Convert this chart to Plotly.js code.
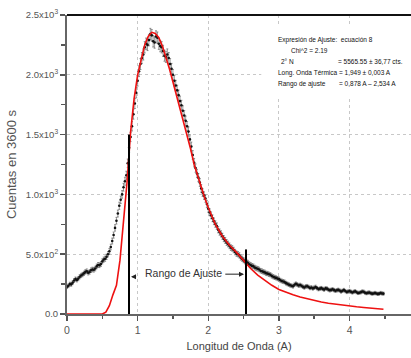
<!DOCTYPE html>
<html>
<head>
<meta charset="utf-8">
<script src="https://cdn.plot.ly/plotly-3.0.1.min.js"></script>
<style>html,body{margin:0;padding:0;background:#fff;}#chart{width:411px;height:358px;}</style>
</head>
<body>
<div id="chart"></div>
<script>
// Measured spectrum (wavelength in A, counts in 3600 s)
const dataX = [
0.00,0.02,0.04,0.06,0.08,0.10,0.12,0.14,0.16,0.18,
0.20,0.22,0.24,0.26,0.28,0.30,0.32,0.34,0.36,0.38,
0.40,0.42,0.44,0.46,0.48,0.50,0.52,0.54,0.56,0.58,
0.60,0.62,0.64,0.66,0.68,0.70,0.72,0.74,0.76,0.78,
0.80,0.82,0.84,0.86,0.88,0.90,0.92,0.94,0.96,0.98,
1.00,1.02,1.04,1.06,1.08,1.10,1.12,1.14,1.16,1.18,
1.20,1.22,1.24,1.26,1.28,1.30,1.32,1.34,1.36,1.38,
1.40,1.42,1.44,1.46,1.48,1.50,1.52,1.54,1.56,1.58,
1.60,1.62,1.64,1.66,1.68,1.70,1.72,1.74,1.76,1.78,
1.80,1.82,1.84,1.86,1.88,1.90,1.92,1.94,1.96,1.98,
2.00,2.02,2.04,2.06,2.08,2.10,2.12,2.14,2.16,2.18,
2.20,2.22,2.24,2.26,2.28,2.30,2.32,2.34,2.36,2.38,
2.40,2.42,2.44,2.46,2.48,2.50,2.52,2.54,2.56,2.58,
2.60,2.62,2.64,2.66,2.68,2.70,2.72,2.74,2.76,2.78,
2.80,2.82,2.84,2.86,2.88,2.90,2.92,2.94,2.96,2.98,
3.00,3.02,3.04,3.06,3.08,3.10,3.12,3.14,3.16,3.18,
3.20,3.22,3.24,3.26,3.28,3.30,3.32,3.34,3.36,3.38,
3.40,3.42,3.44,3.46,3.48,3.50,3.52,3.54,3.56,3.58,
3.60,3.62,3.64,3.66,3.68,3.70,3.72,3.74,3.76,3.78,
3.80,3.82,3.84,3.86,3.88,3.90,3.92,3.94,3.96,3.98,
4.00,4.02,4.04,4.06,4.08,4.10,4.12,4.14,4.16,4.18,
4.20,4.22,4.24,4.26,4.28,4.30,4.32,4.34,4.36,4.38,
4.40,4.42,4.44,4.46,4.48];
const dataY = [
228,236,250,248,262,280,292,285,296,312,
322,330,340,352,358,345,352,366,372,370,
380,398,410,408,418,440,455,462,478,500,
525,560,610,660,720,780,840,905,955,1000,
1060,1110,1160,1260,1390,1480,1570,1670,1760,1850,
1950,2030,2090,2140,2170,2230,2260,2250,2290,2340,
2330,2280,2270,2320,2310,2260,2240,2230,2200,2160,
2150,2170,2140,2090,2050,2000,1950,1910,1870,1830,
1780,1745,1700,1660,1615,1570,1525,1460,1400,1330,
1265,1220,1175,1140,1100,1050,1015,990,965,920,
880,850,825,800,775,752,735,705,685,670,
650,630,615,598,585,570,555,548,535,518,
505,500,490,472,462,450,440,436,428,416,
410,402,398,388,382,378,372,362,358,352,
348,340,338,332,328,318,312,306,302,296,
292,282,276,272,268,258,252,246,240,236,
232,244,252,246,238,242,236,228,222,230,
232,226,218,222,214,220,226,216,208,212,
216,210,204,214,212,204,198,202,206,200,
194,198,202,196,188,194,200,192,184,188,
192,186,180,186,190,182,176,178,182,188,
186,178,174,178,180,174,170,172,176,172,
168,170,176,172,170];

// Fit curve (ecuación 8)
const fitX = [0.00,0.50,0.55,0.60,0.65,0.70,0.75,0.80,0.85,0.90,0.95,1.00,1.05,1.10,1.15,1.20,1.25,1.30,1.35,1.40,
1.45,1.50,1.55,1.60,1.65,1.70,1.75,1.80,1.85,1.90,1.95,2.00,2.05,2.10,2.20,2.30,2.40,2.50,2.60,2.70,
2.80,2.90,3.00,3.10,3.20,3.30,3.40,3.50,3.60,3.70,3.80,3.90,4.00,4.10,4.20,4.30,4.40,4.48];
const fitY = [0,0,15,70,160,240,450,780,1100,1520,1800,2000,2140,2250,2320,2355,2345,2310,2240,2150,
2050,1940,1830,1710,1600,1490,1380,1250,1150,1060,970,890,820,750,650,575,515,450,380,325,
280,240,205,180,160,142,126,112,100,90,81,73,67,60,54,49,44,40];

// Fit range markers
const rangeX = [0.878, 2.534];
const rangeTop = [1500, 540];

const yTickVals = [0, 500, 1000, 1500, 2000, 2500];
const yTickText = ['0.0', '5.0x10<sup>2</sup>', '1.0x10<sup>3</sup>', '1.5x10<sup>3</sup>', '2.0x10<sup>3</sup>', '2.5x10<sup>3</sup>'];

const infoLines = [
  {x: 2.956, y: 2289, t: 'Expresión de Ajuste:  ecuación 8'},
  {x: 3.14,  y: 2206, t: 'Chi^2 = 2.19'},
  {x: 3.00,  y: 2108, t: '2° N'},
  {x: 3.805, y: 2108, t: '= 5565.55 ± 36,77 cts.'},
  {x: 2.956, y: 2011, t: 'Long. Onda Térmica = 1,949 ± 0,003 A'},
  {x: 2.956, y: 1927, t: 'Rango de ajuste'},
  {x: 3.82,  y: 1927, t: '= 0,878 A – 2,534 A'}
];

const traces = [
  {x: dataX, y: dataY, type: 'scatter', mode: 'markers',
   marker: {color: '#111', size: 2.6},
   error_y: {type: 'sqrt', visible: true, color: '#555', thickness: 0.6, width: 1},
   hoverinfo: 'skip'},
  {x: fitX, y: fitY, type: 'scatter', mode: 'lines',
   line: {color: '#ee1111', width: 1.6}, hoverinfo: 'skip'},
  {x: [rangeX[0], rangeX[0]], y: [0, rangeTop[0]], type: 'scatter', mode: 'lines',
   line: {color: '#000', width: 2}, hoverinfo: 'skip'},
  {x: [rangeX[1], rangeX[1]], y: [0, rangeTop[1]], type: 'scatter', mode: 'lines',
   line: {color: '#000', width: 2}, hoverinfo: 'skip'}
];

const annotations = infoLines.map(l => ({
  x: l.x, y: l.y, xref: 'x', yref: 'y', text: l.t, showarrow: false,
  xanchor: 'left', yanchor: 'middle',
  font: {family: 'Liberation Sans, Arial, sans-serif', size: 6.5, color: '#111'}
}));
annotations.push({
  x: 1.655, y: 342, xref: 'x', yref: 'y', text: 'Rango de Ajuste', showarrow: false,
  xanchor: 'center', yanchor: 'middle',
  font: {family: 'Liberation Sans, Arial, sans-serif', size: 10.5, color: '#333'}
});
annotations.push({
  x: rangeX[0], y: 311, xref: 'x', yref: 'y', ax: 1.0, ay: 311, axref: 'x', ayref: 'y',
  text: '', showarrow: true, arrowhead: 2, arrowsize: 1, arrowwidth: 1, arrowcolor: '#222', standoff: 2
});
annotations.push({
  x: rangeX[1], y: 333, xref: 'x', yref: 'y', ax: 2.22, ay: 333, axref: 'x', ayref: 'y',
  text: '', showarrow: true, arrowhead: 2, arrowsize: 1, arrowwidth: 1, arrowcolor: '#222', standoff: 2
});

const axisFont = {family: 'Liberation Sans, Arial, sans-serif', size: 10.5, color: '#555'};

const layout = {
  width: 411, height: 358,
  margin: {l: 67, r: 0, t: 15, b: 44, pad: 0},
  paper_bgcolor: '#fff', plot_bgcolor: '#fff',
  showlegend: false,
  font: {family: 'Liberation Sans, Arial, sans-serif', color: '#555'},
  xaxis: {
    range: [0, 4.87], tickvals: [0, 1, 2, 3, 4], ticktext: ['0', '1', '2', '3', '4'],
    ticks: 'outside', ticklen: 5, tickwidth: 1.5, tickcolor: '#555',
    showline: true, linecolor: '#666', linewidth: 2,
    showgrid: true, gridcolor: '#c8c8c8', griddash: 'dot', gridwidth: 1,
    zeroline: false, tickfont: axisFont,
    minor: {dtick: 0.5, tick0: 0, ticks: 'outside', ticklen: 3, tickwidth: 1.5, tickcolor: '#555', showgrid: false},
    title: {text: 'Longitud de Onda (A)', font: {family: 'Liberation Sans, Arial, sans-serif', size: 11, color: '#444'}, standoff: 8}
  },
  yaxis: {
    range: [0, 2500], tickvals: yTickVals, ticktext: yTickText,
    ticks: 'outside', ticklen: 5, tickwidth: 1.5, tickcolor: '#555',
    showline: true, linecolor: '#666', linewidth: 2,
    showgrid: true, gridcolor: '#c8c8c8', griddash: 'dot', gridwidth: 1,
    zeroline: false, tickfont: {family: 'Liberation Sans, Arial, sans-serif', size: 9.5, color: '#555'},
    minor: {dtick: 250, tick0: 0, ticks: 'outside', ticklen: 4, tickwidth: 1.5, tickcolor: '#555', showgrid: false},
    title: {text: 'Cuentas en 3600 s', font: {family: 'Liberation Sans, Arial, sans-serif', size: 13, color: '#555'}, standoff: 6}
  },
  shapes: [
    {type: 'line', xref: 'paper', yref: 'paper', x0: 0, x1: 1, y0: 1, y1: 1, line: {color: '#111', width: 2}},
    {type: 'rect', xref: 'x', yref: 'y', x0: 2.75, x1: 4.87, y0: 1800, y1: 2400, layer: 'between',
     fillcolor: '#fff', line: {width: 0}}
  ],
  annotations: annotations
};

Plotly.newPlot('chart', traces, layout, {staticPlot: true, displayModeBar: false});
</script>
</body>
</html>
